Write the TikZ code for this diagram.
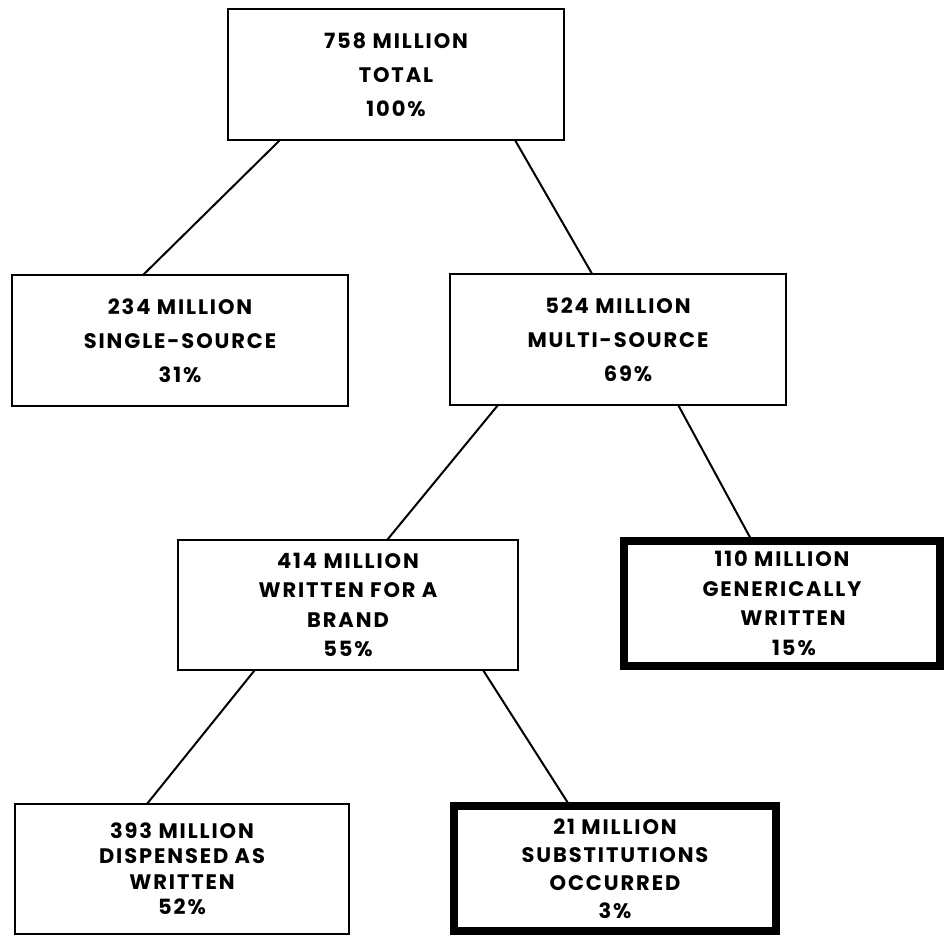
\documentclass[tikz,border=0pt]{standalone}
\usepackage{fontspec}
\setmainfont{Poppins}[LetterSpace=9]
\usetikzlibrary{calc}
\begin{document}
\begin{tikzpicture}[x=1pt,y=-1pt,
  box/.style={draw, line width=2.4pt, inner sep=0pt, outer sep=0pt, align=center,
    font=\bfseries\fontsize{21}{34}\selectfont},
  heavy/.style={box, line width=8pt},
  link/.style={line width=2pt},
  tight/.style={font=\bfseries\fontsize{21}{#1}\selectfont}]
\path[use as bounding box] (0,0) rectangle (944,936);
\node[box, minimum width=336pt, minimum height=131pt] (total) at (396,74.5) {758 MILLION\\TOTAL\\100\%};
\node[box, minimum width=336pt, minimum height=131pt] (single) at (180,340.5) {234 MILLION\\SINGLE-SOURCE\\31\%};
\node[box, minimum width=336pt, minimum height=131pt] (multi) at (618,339.5) {524 MILLION\\MULTI-SOURCE\\\hspace*{20pt}69\%};
\node[box, tight=29.5, minimum width=340pt, minimum height=130pt] (brand) at (348,605) {414 MILLION\\WRITTEN FOR A\\BRAND\\55\%};
\node[heavy, tight=29.5, minimum width=316pt, minimum height=125pt] (generic) at (782,603.5) {110 MILLION\\GENERICALLY\\\hspace*{22pt}WRITTEN\\\hspace*{24pt}15\%};
\node[box, tight=25.5, minimum width=334pt, minimum height=130pt] (disp) at (182,869) {393 MILLION\\DISPENSED AS\\WRITTEN\\52\%};
\node[heavy, tight=28, minimum width=322pt, minimum height=125pt] (subs) at (615,868.5) {21 MILLION\\SUBSTITUTIONS\\OCCURRED\\3\%};
\draw[link] ($(total.south west)!0.155!(total.south east)$) -- ($(single.north west)!0.39!(single.north east)$);
\draw[link] ($(total.south west)!0.854!(total.south east)$) -- ($(multi.north west)!0.423!(multi.north east)$);
\draw[link] ($(multi.south west)!0.143!(multi.south east)$) -- ($(brand.north west)!0.615!(brand.north east)$);
\draw[link] ($(multi.south west)!0.679!(multi.south east)$) -- ($(generic.north west)!0.405!(generic.north east)$);
\draw[link] ($(brand.south west)!0.226!(brand.south east)$) -- ($(disp.north west)!0.395!(disp.north east)$);
\draw[link] ($(brand.south west)!0.897!(brand.south east)$) -- ($(subs.north west)!0.36!(subs.north east)$);
\end{tikzpicture}
\end{document}
